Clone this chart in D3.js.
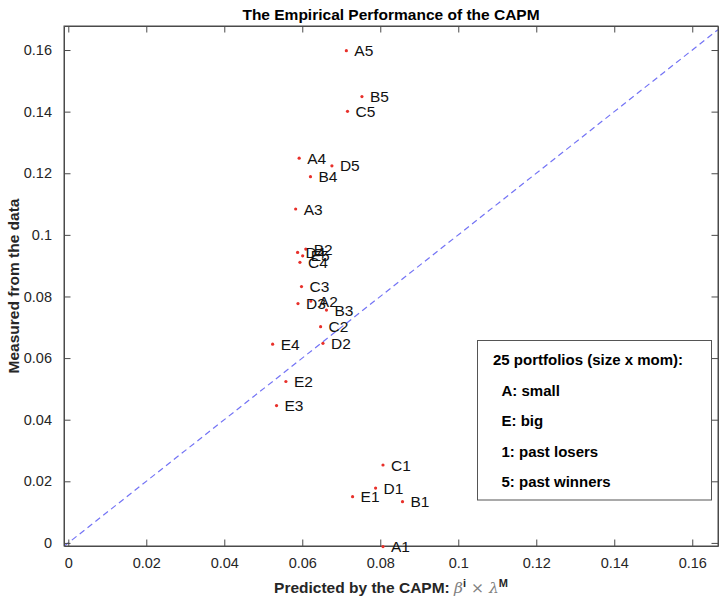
<!DOCTYPE html>
<html>
<head>
<meta charset="utf-8">
<script src="https://cdn.jsdelivr.net/npm/d3@7"></script>
<style>
  html, body { margin: 0; padding: 0; background: #fff; }
  svg { display: block; font-family: "Liberation Sans", Arial, Helvetica, sans-serif; }
</style>
</head>
<body>
<svg id="chart" width="719" height="597"></svg>
<script>
// ---- data ----
const portfolios = ["A1","A2","A3","A4","A5","B1","B2","B3","B4","B5","C1","C2","C3","C4","C5","D1","D2","D3","D4","D5","E1","E2","E3","E4","E5"];
const predicted  = [0.0807,0.0622,0.0583,0.0592,0.0713, 0.0857,0.0609,0.0662,0.0621,0.0753, 0.0807,0.0647,0.0598,0.0594,0.0716, 0.0788,0.0653,0.0589,0.0588,0.0676, 0.0729,0.0558,0.0534,0.0524,0.0601];
const measured   = [-0.0012,0.0785,0.1084,0.1249,0.1598, 0.0134,0.0954,0.0756,0.1189,0.1449, 0.0253,0.0702,0.0832,0.0911,0.1401, 0.0178,0.0648,0.0777,0.0943,0.1224, 0.0150,0.0524,0.0446,0.0645,0.0932];
const xTicks = [0,0.02,0.04,0.06,0.08,0.1,0.12,0.14,0.16];
const yTicks = [0,0.02,0.04,0.06,0.08,0.1,0.12,0.14,0.16];
const xDomain = [-0.0011, 0.1666];
const yDomain = [-0.001, 0.1678];
const legendLines = ["25 portfolios (size x mom):", "A: small", "E: big", "1: past losers", "5: past winners"];
const titleText = "The Empirical Performance of the CAPM";
const yLabelText = "Measured from the data";

// ---- layout ----
const L = 64, R = 718, T = 26, B = 546;
const axisColor = "#4a4a4a", textColor = "#262626";
const svg = d3.select("#chart");
const x = d3.scaleLinear().domain(xDomain).range([L, R]);
const y = d3.scaleLinear().domain(yDomain).range([B, T]);
const fmt = v => String(+v.toFixed(4));

svg.append("defs").append("clipPath").attr("id","plotclip")
  .append("rect").attr("x", L).attr("y", T).attr("width", R-L).attr("height", B-T);

// diagonal y = x
const diag = [xDomain[0], xDomain[1]];
svg.append("line")
  .attr("clip-path","url(#plotclip)")
  .attr("x1", x(diag[0])).attr("y1", y(diag[0]))
  .attr("x2", x(diag[1])).attr("y2", y(diag[1]))
  .attr("stroke", "#7373f5").attr("stroke-width", 1.2)
  .attr("stroke-dasharray", "6,4");

// axes (MATLAB box, inward ticks)
const tl = 6.5;
const gB = svg.append("g").attr("transform", `translate(0,${B})`)
  .call(d3.axisBottom(x).tickValues(xTicks).tickFormat(fmt).tickSizeInner(-tl).tickSizeOuter(0).tickPadding(12));
const gT = svg.append("g").attr("transform", `translate(0,${T})`)
  .call(d3.axisTop(x).tickValues(xTicks).tickFormat("").tickSizeInner(-tl).tickSizeOuter(0));
const gL = svg.append("g").attr("transform", `translate(${L},0)`)
  .call(d3.axisLeft(y).tickValues(yTicks).tickFormat(fmt).tickSizeInner(-tl).tickSizeOuter(0).tickPadding(12));
const gR = svg.append("g").attr("transform", `translate(${R},0)`)
  .call(d3.axisRight(y).tickValues(yTicks).tickFormat("").tickSizeInner(-tl).tickSizeOuter(0));
[gB,gT,gL,gR].forEach(g => {
  g.select(".domain").attr("stroke", axisColor);
  g.selectAll(".tick line").attr("stroke", axisColor);
  g.selectAll(".tick text").attr("fill", textColor).style("font-size","14.5px").style("font-family",'"Liberation Sans", Arial, sans-serif');
});
svg.append("rect").attr("x", L).attr("y", T).attr("width", R-L).attr("height", B-T)
  .attr("fill","none").attr("stroke", axisColor).attr("stroke-width",1);

// points
const pts = portfolios.map((p,i) => ({p, xv: predicted[i], yv: measured[i]}));
svg.append("g").selectAll("circle").data(pts).join("circle")
  .attr("cx", d => x(d.xv)).attr("cy", d => y(d.yv)).attr("r", 1.6)
  .attr("fill", "#e8302a");
svg.append("g").selectAll("text").data(pts).join("text")
  .attr("x", d => x(d.xv) + 8).attr("y", d => y(d.yv)).attr("dy", "0.36em")
  .attr("fill", "#111").style("font-size","15.5px")
  .text(d => d.p);

// title
svg.append("text").attr("x", (L+R)/2).attr("y", 20).attr("text-anchor","middle")
  .attr("fill","#000").style("font-size","15.5px").style("font-weight","bold")
  .text(titleText);

// x label
const xl = svg.append("text").attr("x", (L+R)/2).attr("y", 593).attr("text-anchor","middle")
  .attr("fill", textColor).style("font-size","15.5px").style("font-weight","bold");
xl.append("tspan").text("Predicted by the CAPM: ");
const mathStyle = t => t.style("font-family",'"DejaVu Serif", "Liberation Serif", serif').style("font-style","italic").style("font-weight","normal").attr("fill","#808080");
mathStyle(xl.append("tspan").text("β"));
xl.append("tspan").attr("dy","-6").style("font-size","11px").text("i");
mathStyle(xl.append("tspan").attr("dy","6").style("font-style","normal").text(" × "));
mathStyle(xl.append("tspan").text("λ"));
xl.append("tspan").attr("dy","-6").style("font-size","11px").text("M");

// y label
svg.append("text").attr("transform", `translate(19,${(T+B)/2}) rotate(-90)`)
  .attr("text-anchor","middle").attr("fill", textColor)
  .style("font-size","15.5px").style("font-weight","bold").text(yLabelText);

// legend
const lg = svg.append("g");
lg.append("rect").attr("x", 477.5).attr("y", 340.5).attr("width", 234).attr("height", 159.5)
  .attr("fill","#fff").attr("stroke","#555").attr("stroke-width",1);
lg.selectAll("text").data(legendLines).join("text")
  .attr("x", (d,i) => i === 0 ? 493 : 501.5)
  .attr("y", (d,i) => 365 + i*30.5)
  .attr("fill","#000").style("font-size","15px").style("font-weight","bold")
  .text(d => d);
</script>
</body>
</html>
